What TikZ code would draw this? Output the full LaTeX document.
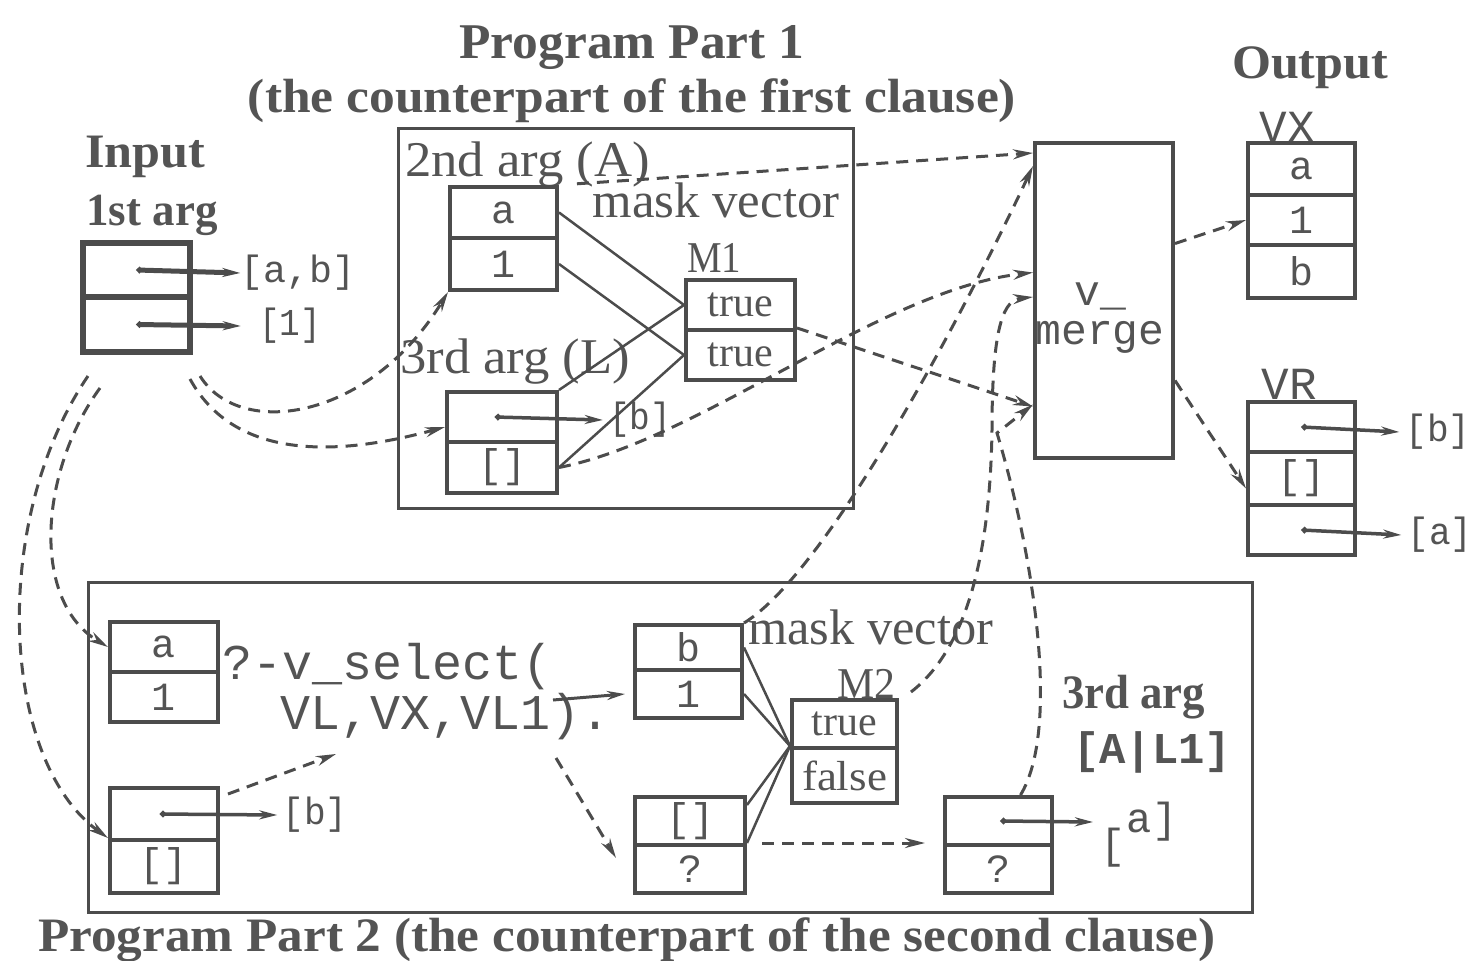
\documentclass[tikz,border=0pt]{standalone}
\usepackage{fontspec}
\setmainfont{Liberation Serif}
\setmonofont{Liberation Mono}
\usepackage{graphicx}
\usetikzlibrary{arrows.meta}
\definecolor{ink}{gray}{0.30}
\definecolor{txt}{gray}{0.33}
\newcommand\fs[1]{\fontsize{#1}{#1}\selectfont}
\newcommand\hfit[2]{\resizebox{#1}{\height}{#2}}
\begin{document}
\begin{tikzpicture}[x=1pt,y=-1pt,
  cell/.style={draw=ink, line width=4pt, inner sep=0pt, minimum width=107pt, font=\ttfamily\fs{40}, text=txt},
  frame/.style={draw=ink, line width=3pt, inner sep=0pt},
  lbl/.style={inner sep=0pt, text=txt},
  ptr/.style={draw=ink, line width=3.5pt, {Circle[length=6pt]}-{Stealth[length=18pt,width=9pt]}},
  ptrs/.style={draw=ink, line width=3pt, -{Stealth[length=18pt,width=9pt]}},
  dsh/.style={draw=ink, line width=3pt, dash pattern=on 12pt off 8pt, -{Stealth[length=20pt,width=10pt]}},
  sline/.style={draw=ink, line width=2.5pt},
]
\fill[white] (0,0) rectangle (1478,961);
\useasboundingbox (0,0) rectangle (1478,961);

% frames
\node[frame, minimum width=455pt, minimum height=380pt] (P1) at (625.5,318) {};
\node[frame, minimum width=1164pt, minimum height=330pt] (P2) at (670,747) {};

% titles
\node[lbl, font=\bfseries\fs{50}] (t1) at (632,48) {\hfit{345pt}{Program Part 1}};
\node[lbl, font=\bfseries\fs{48}] (t2) at (632,101) {\hfit{768pt}{(the counterpart of the first clause)}};
\node[lbl, font=\bfseries\fs{48}] (tout) at (1310,68) {\hfit{156pt}{Output}};
\node[lbl, font=\bfseries\fs{48}] (tin) at (145,157) {\hfit{120pt}{Input}};
\node[lbl, font=\bfseries\fs{46}] (targ1) at (152,215) {\hfit{131pt}{1st arg}};
\node[lbl, font=\bfseries\fs{48}, anchor=west] (tb) at (38,940) {\hfit{1177pt}{Program Part 2 (the counterpart of the second clause)}};

% input box
\node[cell, line width=6pt, minimum height=54pt] (in1) at (136.5,270) {};
\node[cell, line width=6pt, minimum height=55pt] (in2) at (136.5,324.5) {};
\node[lbl, font=\ttfamily\fs{38}] (ab) at (298,273) {\hfit{115pt}{[a,b]}};
\node[lbl, font=\ttfamily\fs{38}] (one) at (290,326) {\hfit{62pt}{[1]}};
\draw[ptr, line width=5pt] (in1.center) -- (ab.west);
\draw[ptr, line width=5pt] (in2.center) -- ([xshift=-18pt]one.west);

% program part 1
\node[lbl, font=\fs{50}, anchor=west] (arg2) at (405,165) {\hfit{245pt}{2nd arg (A)}};
\node[lbl, font=\fs{50}] (mv1) at (716,200) {\hfit{247pt}{mask vector}};
\node[lbl, font=\fs{44}] (m1l) at (714,258) {\hfit{54pt}{M1}};
\node[lbl, font=\fs{50}, anchor=west] (arg3) at (400,362) {\hfit{230pt}{3rd arg (L)}};

\node[cell, minimum height=51pt] (A1) at (503.5,212.5) {a};
\node[cell, minimum height=52pt] (A2) at (503.5,264) {1};
\node[cell, minimum width=109pt, minimum height=50pt, font=\fs{42}] (M1a) at (740.5,305) {true};
\node[cell, minimum width=109pt, minimum height=50pt, font=\fs{42}] (M1b) at (740.5,355) {true};
\node[cell, minimum width=110pt, minimum height=50pt] (L1) at (502,417) {};
\node[cell, minimum width=110pt, minimum height=51pt] (L2) at (502,467.5) {[]};
\node[lbl, font=\ttfamily\fs{38}] (bL) at (640,420) {\hfit{62pt}{[b]}};
\draw[ptr] ([xshift=-7pt]L1.center) -- ([xshift=-6pt]bL.west);

\draw[sline] (A1.east) -- (M1a.west);
\draw[sline] (A2.east) -- (M1b.west);
\draw[sline] (L1.north east) -- (M1a.west);
\draw[sline] (L2.east) -- (M1b.west);

% v_merge
\node[cell, minimum width=138pt, minimum height=315pt] (vm) at (1104,300.5) {};
\node[lbl, font=\ttfamily\fs{43}, align=center] (vmt) at (1100,318) {v\_\\[-4pt]merge};

% outputs
\node[lbl, font=\ttfamily\fs{46}] (vxl) at (1287,127) {VX};
\node[cell, minimum height=52pt] (VX1) at (1301.5,169) {a};
\node[cell, minimum height=50pt] (VX2) at (1301.5,220) {1};
\node[cell, minimum height=53pt] (VX3) at (1301.5,271.5) {b};
\node[lbl, font=\ttfamily\fs{46}] (vrl) at (1289,384) {VR};
\node[cell, minimum height=50pt] (VR1) at (1301.5,427) {};
\node[cell, minimum height=53pt] (VR2) at (1301.5,478.5) {[]};
\node[cell, minimum height=50pt] (VR3) at (1301.5,530) {};
\node[lbl, font=\ttfamily\fs{38}] (vrb) at (1438,432) {\hfit{65pt}{[b]}};
\node[lbl, font=\ttfamily\fs{38}] (vra) at (1440,535) {\hfit{65pt}{[a]}};
\draw[ptr] (VR1.center) -- ([xshift=-6pt]vrb.west);
\draw[ptr] (VR3.center) -- ([xshift=-6pt]vra.west);

% program part 2
\node[cell, minimum width=108pt, minimum height=50pt] (P2a1) at (164,647) {a};
\node[cell, minimum width=108pt, minimum height=50pt] (P2a2) at (164,697) {1};
\node[cell, minimum width=108pt, minimum height=52pt] (P2b1) at (164,814) {};
\node[cell, minimum width=108pt, minimum height=53pt] (P2b2) at (164,866.5) {[]};
\node[lbl, font=\ttfamily\fs{38}] (p2b) at (315,815) {\hfit{65pt}{[b]}};
\draw[ptr] ([xshift=-4pt]P2b1.center) -- ([xshift=-5pt]p2b.west);

\node[lbl, font=\ttfamily\fs{50}, anchor=west] (sel1) at (222,667) {?-v\_select(};
\node[lbl, font=\ttfamily\fs{50}, anchor=west] (sel2) at (280,717) {VL,VX,VL1).};

\node[cell, minimum height=45pt] (B1) at (688.5,647.5) {b};
\node[cell, minimum height=48pt] (B2) at (688.5,694) {1};
\node[lbl, font=\fs{50}, anchor=west] (mv2) at (748,627) {\hfit{245pt}{mask vector}};
\node[lbl, font=\fs{44}] (m2l) at (866,684) {\hfit{58pt}{M2}};
\node[cell, minimum width=105pt, minimum height=48pt, font=\fs{42}] (M2a) at (844.5,724) {true};
\node[cell, minimum width=105pt, minimum height=55pt, font=\fs{42}] (M2b) at (844.5,775.5) {\hfit{85pt}{false}};
\node[cell, minimum width=110pt, minimum height=48pt] (Q1) at (690,821) {[]};
\node[cell, minimum width=110pt, minimum height=48pt] (Q2) at (690,869) {?};
\node[cell, minimum height=48pt] (R1) at (998.5,821) {};
\node[cell, minimum height=48pt] (R2) at (998.5,869) {?};
\node[lbl, font=\bfseries\fs{48}, anchor=west] (arg3b) at (1062,697) {\hfit{143pt}{3rd arg}};
\node[lbl, font=\ttfamily\bfseries\fs{44}] (al1) at (1152,752) {\hfit{158pt}{[A|L1]}};
\node[lbl, font=\ttfamily\fs{42}] (rbr) at (1113,848) {[};
\node[lbl, font=\ttfamily\fs{42}] (ra) at (1152,822) {a]};
\coordinate (rtip) at (1093,822);
\draw[ptr] ([xshift=2pt]R1.center) -- (rtip);

\draw[sline] (B1.east) -- (M2b.north west);
\draw[sline] (B2.east) -- (M2b.north west);
\draw[sline] ([yshift=-10pt]Q1.north east) -- (M2b.north west);
\draw[sline] (Q2.north east) -- (M2b.north west);

\coordinate (selA) at (553,700);
\coordinate (selB) at (556,758);
\coordinate (vlpt) at (336,754);
\coordinate (qtip) at (616,858);
\draw[ptrs] (selA) -- ([xshift=-8pt]B2.west);
\draw[dsh] ([xshift=8pt,yshift=-8pt]P2b1.north east) -- (vlpt);
\draw[dsh] (selB) -- (qtip);
\draw[dsh, shorten <=15pt, shorten >=18pt] (Q2.north east) -- (R2.north west);

% dashed flows, part 1 and input
\coordinate (s1) at (200,376);
\coordinate (s2) at (190,379);
\coordinate (s3) at (100,388);
\coordinate (s4) at (88,376);
\draw[dsh] (s1) .. controls (240,440) and (370,420) .. (A2.south west);
\draw[dsh] (s2) .. controls (240,470) and (360,450) .. ([yshift=-10pt]L1.west);
\draw[dsh] (s3) .. controls (40,470) and (30,600) .. (P2a1.west);
\draw[dsh] (s4) .. controls (-10,520) and (0,760) .. (P2b2.north west);

\draw[dsh, shorten <=18pt] (A1.north east) -- ([yshift=-12pt]vm.north west);
\draw[dsh] (M1b.north east) -- ([yshift=-106pt]vm.west);
\draw[dsh] (L2.east) .. controls (700,440) and (880,290) .. ([yshift=28pt]vm.west);
\draw[dsh] (B1.north east) .. controls (830,570) and (970,300) .. ([yshift=-25pt]vm.north west);
\draw[dsh] ([xshift=12pt,yshift=6pt]M2a.north east) .. controls (965,650) and (990,560) .. (992,430) .. controls (992,320) and (1005,300) .. ([yshift=3.5pt]vm.west);
\draw[dsh] ([xshift=22pt]R1.north) .. controls (1060,730) and (1035,560) .. (997,433) -- ([yshift=-104pt]vm.west);

% outputs flows
\draw[dsh] ([yshift=57pt]vm.east) -- (VX2.west);
\draw[dsh] ([yshift=-80pt]vm.east) -- ([yshift=-10pt]VR2.west);
\end{tikzpicture}
\end{document}
